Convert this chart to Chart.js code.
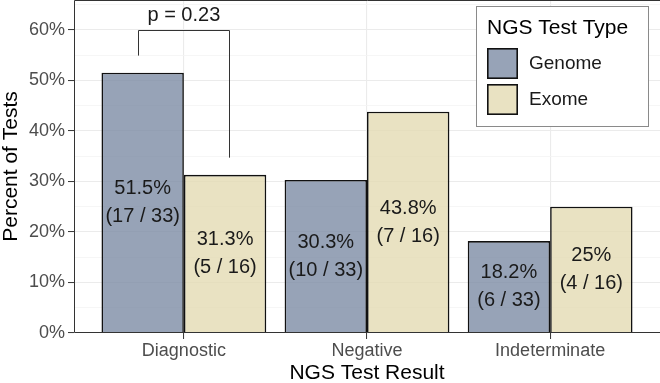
<!DOCTYPE html>
<html>
<head>
<meta charset="utf-8">
<script src="https://cdn.jsdelivr.net/npm/chart.js@4/dist/chart.umd.min.js"></script>
<style>
  html, body { margin: 0; padding: 0; background: #fff; }
  #wrap { width: 660px; height: 383px; }
</style>
</head>
<body>
<div id="wrap"><canvas id="myChart" width="660" height="383"></canvas></div>
<script>
const categories = ['Diagnostic', 'Negative', 'Indeterminate'];
const seriesNames = ['Genome', 'Exome'];
const genomePct = [51.5, 30.3, 18.2];
const exomePct = [31.3, 43.8, 25];
const genomeCounts = ['17 / 33', '10 / 33', '6 / 33'];
const exomeCounts = ['5 / 16', '7 / 16', '4 / 16'];
const yTickValues = [0, 10, 20, 30, 40, 50, 60];

// p-value bracket, in data units (x = category index, y = percent)
const bracketX = [0.75, 1.245];
const bracketTop = 60;
const bracketLegs = [54.9, 34.7];
const pLabel = 'p = 0.23';
const pLabelAt = [1.0, 62.9];

const FONT = '"Liberation Sans", Arial, sans-serif';
const fills = ['rgba(125,140,165,0.8)', 'rgba(228,219,179,0.8)'];

const mkData = (vals) => vals.map((v, i) => ({ x: i + 1, y: v }));

const panelAndLabels = {
  id: 'panelAndLabels',
  afterDatasetsDraw(chart) {
    const ctx = chart.ctx;
    const xs = chart.scales.x, ys = chart.scales.y;
    const counts = [genomeCounts, exomeCounts];
    const pcts = [genomePct, exomePct];
    ctx.save();
    ctx.font = '20px ' + FONT;
    ctx.fillStyle = '#1a1a1a';
    ctx.textAlign = 'center';
    ctx.textBaseline = 'middle';
    chart.data.datasets.forEach((ds, d) => {
      chart.getDatasetMeta(d).data.forEach((bar, i) => {
        const mid = (bar.y + bar.base) / 2;
        ctx.fillText(pcts[d][i] + '%', bar.x, mid - 14);
        ctx.fillText('(' + counts[d][i] + ')', bar.x, mid + 14);
      });
    });

    // bracket
    ctx.strokeStyle = '#333';
    ctx.lineWidth = 1;
    const xl = Math.round(xs.getPixelForValue(bracketX[0])) + 0.5;
    const xr = Math.round(xs.getPixelForValue(bracketX[1])) + 0.5;
    const yt = Math.round(ys.getPixelForValue(bracketTop)) + 0.5;
    ctx.beginPath();
    ctx.moveTo(xl, ys.getPixelForValue(bracketLegs[0]));
    ctx.lineTo(xl, yt);
    ctx.lineTo(xr, yt);
    ctx.lineTo(xr, ys.getPixelForValue(bracketLegs[1]));
    ctx.stroke();
    ctx.fillText(pLabel, xs.getPixelForValue(pLabelAt[0]), ys.getPixelForValue(pLabelAt[1]));

    // panel border (right edge falls off the picture)
    const a = chart.chartArea;
    ctx.strokeStyle = '#333';
    ctx.beginPath();
    ctx.moveTo(a.right, a.top + 0.5);
    ctx.lineTo(a.left + 0.5, a.top + 0.5);
    ctx.lineTo(a.left + 0.5, a.bottom - 0.5);
    ctx.lineTo(a.right, a.bottom - 0.5);
    ctx.stroke();

    // legend
    const lw = 172, lh = 120;
    const lx = a.right - 12 - lw, ly = a.top + 6;
    ctx.fillStyle = '#fff';
    ctx.fillRect(lx, ly, lw, lh);
    ctx.strokeStyle = '#8a8a8a';
    ctx.strokeRect(lx + 0.5, ly + 0.5, lw, lh);
    ctx.fillStyle = '#000';
    ctx.textAlign = 'left';
    ctx.font = '21px ' + FONT;
    ctx.fillText('NGS Test Type', lx + 11, ly + 22);
    ctx.font = '19px ' + FONT;
    seriesNames.forEach((name, k) => {
      const ky = ly + 42 + k * 36;
      ctx.fillStyle = fills[k];
      ctx.fillRect(lx + 11, ky, 31, 31);
      ctx.strokeStyle = '#111';
      ctx.lineWidth = 1.6;
      ctx.strokeRect(lx + 11.8, ky + 0.8, 29.4, 29.4);
      ctx.fillStyle = '#1a1a1a';
      ctx.fillText(name, lx + 53, ky + 16);
    });
    ctx.restore();
  }
};

const ctx = document.getElementById('myChart').getContext('2d');
const myChart = new Chart(ctx, {
  type: 'bar',
  data: {
    datasets: [
      { label: seriesNames[0], data: mkData(genomePct), backgroundColor: fills[0], borderColor: '#111', borderWidth: 1.6 },
      { label: seriesNames[1], data: mkData(exomePct), backgroundColor: fills[1], borderColor: '#111', borderWidth: 1.6 },
    ],
  },
  options: {
    responsive: false,
    animation: false,
    devicePixelRatio: 1,
    categoryPercentage: 0.9,
    barPercentage: 1,
    layout: { padding: { top: 0, right: 0, left: 0, bottom: 0 } },
    plugins: { legend: { display: false }, tooltip: { enabled: false } },
    scales: {
      x: {
        type: 'linear',
        min: 0.4,
        max: 3.6,
        offset: false,
        afterBuildTicks: (axis) => { axis.ticks = categories.map((c, i) => ({ value: i + 1 })); },
        afterFit: (axis) => { axis.height = 50; axis.paddingLeft = 0; axis.paddingRight = 0; },
        ticks: {
          callback: (v) => categories[v - 1],
          font: { family: FONT, size: 18 },
          color: '#4d4d4d',
          padding: 1,
          maxRotation: 0,
          autoSkip: false,
        },
        grid: { offset: false, color: '#ebebeb', lineWidth: 1.1, tickLength: 6, tickColor: '#333', tickWidth: 1 },
        border: { display: false },
        title: { display: true, text: 'NGS Test Result', color: '#000', font: { family: FONT, size: 21 }, padding: { top: 0, bottom: -3 } },
      },
      y: {
        min: 0,
        max: 65.9,
        afterFit: (axis) => { axis.width = 74; axis.paddingTop = 0; axis.paddingBottom = 0; },
        ticks: {
          stepSize: 5,
          includeBounds: false,
          autoSkip: false,
          callback: (v) => (yTickValues.includes(v) ? v + '%' : ''),
          font: { family: FONT, size: 18 },
          color: '#4d4d4d',
          padding: 3,
        },
        grid: {
          color: (c) => (c.tick && c.tick.value % 10 === 0 ? '#ebebeb' : '#f4f4f4'),
          lineWidth: (c) => (c.tick && c.tick.value % 10 === 0 ? 1.1 : 0.8),
          tickLength: 6,
          tickColor: (c) => (c.tick && c.tick.value % 10 === 0 ? '#333' : 'rgba(0,0,0,0)'),
          tickWidth: 1,
        },
        border: { display: false },
        title: { display: true, text: 'Percent of Tests', color: '#000', font: { family: FONT, size: 21 }, padding: { top: -1, bottom: 0 } },
      },
    },
  },
  plugins: [panelAndLabels],
});
</script>
</body>
</html>
